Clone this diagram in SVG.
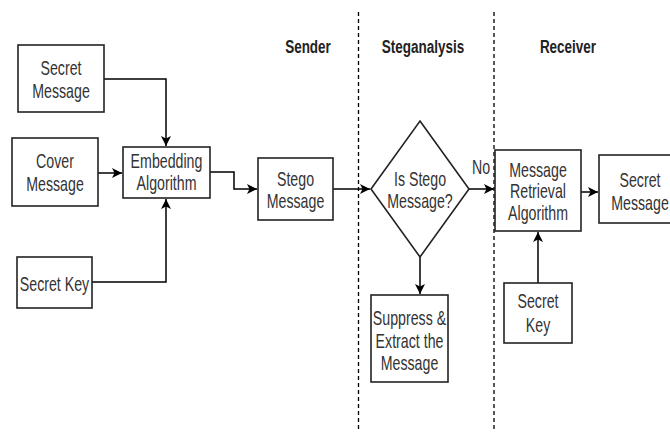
<svg xmlns="http://www.w3.org/2000/svg" width="670" height="432" viewBox="0 0 670 432">
<style>
.box{fill:#fff;stroke:#222;stroke-width:1.6}
.t{font-family:"Liberation Sans",Arial,sans-serif;font-size:20px;fill:#333;text-anchor:middle}
.h{font-family:"Liberation Sans",Arial,sans-serif;font-size:19px;font-weight:bold;fill:#222;text-anchor:middle}
.c{fill:none;stroke:#000;stroke-width:1.5}
.d{fill:none;stroke:#000;stroke-width:1.3;stroke-dasharray:4 3}
</style>
<defs>
<marker id="a" viewBox="0 0 10 10" refX="10" refY="5" markerWidth="10" markerHeight="10" markerUnits="userSpaceOnUse" orient="auto">
<path d="M0,0 L10,5 L0,10 L2.5,5 Z" fill="#000"/>
</marker>
</defs>
<rect width="670" height="432" fill="#fff"/>
<g id="lanes">
<line class="d" x1="358.5" y1="12" x2="358.5" y2="432"/>
<line class="d" x1="494" y1="12" x2="494" y2="432"/>
<text class="h" transform="translate(308,53) scale(0.71,1)">Sender</text>
<text class="h" transform="translate(423,53) scale(0.71,1)">Steganalysis</text>
<text class="h" transform="translate(568,53) scale(0.71,1)">Receiver</text>
</g>
<g id="connectors">
<path class="c" d="M104,79 H166 V146" marker-end="url(#a)"/>
<path class="c" d="M98,173 H122" marker-end="url(#a)"/>
<path class="c" d="M92,282 H166 V199" marker-end="url(#a)"/>
<path class="c" d="M210,172 H234 V189 H257" marker-end="url(#a)"/>
<path class="c" d="M333,189 H370" marker-end="url(#a)"/>
<path class="c" d="M420,257 V294" marker-end="url(#a)"/>
<path class="c" d="M469,189 H494" marker-end="url(#a)"/>
<path class="c" d="M581,192 H598" marker-end="url(#a)"/>
<path class="c" d="M538,283 V232" marker-end="url(#a)"/>
<text class="t" transform="translate(481,174) scale(0.71,1)">No</text>
</g>
<g id="secret-message">
<rect class="box" x="18" y="45" width="86" height="67"/>
<text class="t" transform="translate(61,75) scale(0.71,1)">Secret</text>
<text class="t" transform="translate(61,98) scale(0.71,1)">Message</text>
</g>
<g id="cover-message">
<rect class="box" x="12" y="138" width="86" height="68"/>
<text class="t" transform="translate(55,168) scale(0.71,1)">Cover</text>
<text class="t" transform="translate(55,191) scale(0.71,1)">Message</text>
</g>
<g id="embedding">
<rect class="box" x="123" y="147" width="87" height="51"/>
<text class="t" transform="translate(166.5,168) scale(0.71,1)">Embedding</text>
<text class="t" transform="translate(166.5,190) scale(0.71,1)">Algorithm</text>
</g>
<g id="secret-key">
<rect class="box" x="17" y="257" width="75" height="51"/>
<text class="t" transform="translate(54.5,291) scale(0.71,1)">Secret Key</text>
</g>
<g id="stego-message">
<rect class="box" x="258" y="158" width="75" height="62"/>
<text class="t" transform="translate(295.5,186) scale(0.71,1)">Stego</text>
<text class="t" transform="translate(295.5,208) scale(0.71,1)">Message</text>
</g>
<g id="is-stego">
<path class="box" d="M420,121 L469,189 L420,257 L371,189 Z"/>
<text class="t" transform="translate(420,186) scale(0.71,1)">Is Stego</text>
<text class="t" transform="translate(420,208) scale(0.71,1)">Message?</text>
</g>
<g id="suppress">
<rect class="box" x="371" y="295" width="77" height="87"/>
<text class="t" transform="translate(409.5,325) scale(0.71,1)">Suppress &amp;</text>
<text class="t" transform="translate(409.5,348) scale(0.71,1)">Extract the</text>
<text class="t" transform="translate(409.5,370) scale(0.71,1)">Message</text>
</g>
<g id="retrieval">
<rect class="box" x="495" y="150" width="86" height="81"/>
<text class="t" transform="translate(538,177) scale(0.71,1)">Message</text>
<text class="t" transform="translate(538,198) scale(0.71,1)">Retrieval</text>
<text class="t" transform="translate(538,220) scale(0.71,1)">Algorithm</text>
</g>
<g id="secret-message-out">
<rect class="box" x="599" y="155" width="82" height="68"/>
<text class="t" transform="translate(640,187) scale(0.71,1)">Secret</text>
<text class="t" transform="translate(640,210) scale(0.71,1)">Message</text>
</g>
<g id="secret-key-receiver">
<rect class="box" x="504" y="283" width="68" height="60"/>
<text class="t" transform="translate(538,308) scale(0.71,1)">Secret</text>
<text class="t" transform="translate(538,332) scale(0.71,1)">Key</text>
</g>
</svg>
